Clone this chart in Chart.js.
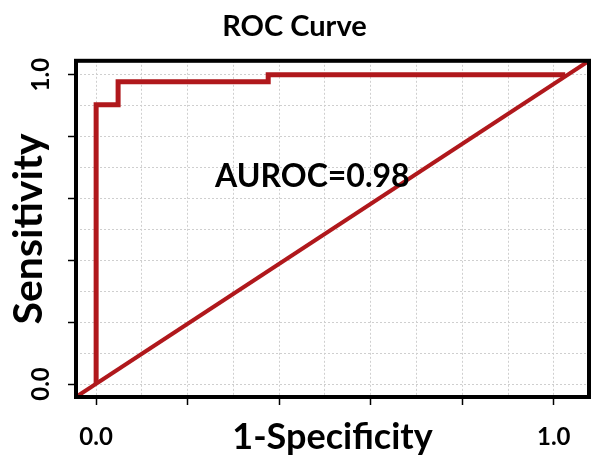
<!DOCTYPE html>
<html>
<head>
<meta charset="utf-8">
<title>ROC Curve</title>
<script src="https://cdn.jsdelivr.net/npm/chart.js@4.4.0/dist/chart.umd.min.js"></script>
<style>
    html, body { margin: 0; padding: 0; background: #ffffff; }
    canvas { display: block; }
</style>
</head>
<body>
<canvas id="rocChart" width="600" height="475"></canvas>
<script>
// ROC curve (1-specificity, sensitivity)
const rocFpr = [0.0, 0.0, 0.048, 0.048, 0.376, 0.376, 1.025];
const rocTpr = [0.0, 0.903, 0.903, 0.977, 0.977, 1.0, 1.0];

// Chance line, runs corner to corner of the plot box
const diagFpr = [-0.044, 1.077];
const diagTpr = [-0.042, 1.045];

// Ticks (grid every 0.1, labels only at the ends)
const xTickValues = [0.0, 0.1, 0.2, 0.3, 0.4, 0.5, 0.6, 0.7, 0.8, 0.9, 1.0];
const yTickValues = [0.0, 0.1, 0.2, 0.3, 0.4, 0.5, 0.6, 0.7, 0.8, 0.9, 1.0];
const labeledTicks = ['0.0', '1.0'];

const aucLabel = 'AUROC=0.98';

const RED = '#b0181c';
const FONT = 'Lato, "Open Sans", sans-serif';

function toPoints(xs, ys) {
    return xs.map((x, i) => ({ x: x, y: ys[i] }));
}

// рамка вокруг области графика
const boxPlugin = {
    id: 'plotBox',
    afterDatasetsDraw(chart) {
        const { ctx, chartArea: a } = chart;
        ctx.save();
        ctx.strokeStyle = '#000000';
        ctx.lineWidth = 4;
        ctx.strokeRect(a.left, a.top, a.right - a.left, a.bottom - a.top);
        ctx.restore();
    }
};

// подпись AUROC внутри графика
const aucPlugin = {
    id: 'aucText',
    afterDraw(chart) {
        const { ctx, scales } = chart;
        ctx.save();
        ctx.font = 'bold 32px ' + FONT;
        ctx.fillStyle = '#000000';
        ctx.textAlign = 'left';
        ctx.textBaseline = 'alphabetic';
        ctx.fillText(aucLabel, scales.x.getPixelForValue(0.26), scales.y.getPixelForValue(0.638));
        ctx.restore();
    }
};

function tickLabel(value) {
    const s = value.toFixed(1);
    return labeledTicks.includes(s) ? s : '';
}

function majorTick(ctx) {
    const v = ctx.tick ? Math.round(ctx.tick.value * 10) : 1;
    return v % 2 === 0 ? '#000000' : 'rgba(0,0,0,0)';
}

const gridOpts = {
    color: '#cfcfcf',
    lineWidth: 1,
    tickColor: majorTick,
    tickLength: 8,
    tickWidth: 1.5
};

new Chart(document.getElementById('rocChart').getContext('2d'), {
    type: 'scatter',
    data: {
        datasets: [
            {
                label: 'ROC',
                data: toPoints(rocFpr, rocTpr),
                showLine: true,
                borderColor: RED,
                backgroundColor: RED,
                borderWidth: 5,
                pointRadius: 0,
                tension: 0
            },
            {
                label: 'Chance',
                data: toPoints(diagFpr, diagTpr),
                showLine: true,
                borderColor: RED,
                backgroundColor: RED,
                borderWidth: 4,
                pointRadius: 0,
                tension: 0
            }
        ]
    },
    options: {
        responsive: false,
        animation: false,
        layout: { padding: { left: 0, right: 11, top: 0, bottom: 0 } },
        plugins: {
            legend: { display: false },
            tooltip: { enabled: false },
            title: {
                display: true,
                text: 'ROC Curve',
                color: '#000000',
                font: { family: FONT, size: 29, weight: 'bold' },
                padding: { top: 9, bottom: 17 }
            }
        },
        scales: {
            x: {
                type: 'linear',
                min: diagFpr[0],
                max: diagFpr[1],
                afterBuildTicks: scale => { scale.ticks = xTickValues.map(v => ({ value: v })); },
                grid: gridOpts,
                border: { display: false, dash: [2, 2] },
                ticks: {
                    callback: tickLabel,
                    color: '#000000',
                    padding: 18,
                    maxRotation: 0,
                    autoSkip: false,
                    font: { family: FONT, size: 24, weight: 'bold' }
                },
                title: {
                    display: true,
                    text: '1-Specificity',
                    color: '#000000',
                    font: { family: FONT, size: 36, weight: 'bold' },
                    padding: { top: -54, bottom: 16 }
                }
            },
            y: {
                type: 'linear',
                min: diagTpr[0],
                max: diagTpr[1],
                afterBuildTicks: scale => { scale.ticks = yTickValues.map(v => ({ value: v })); },
                grid: gridOpts,
                border: { display: false, dash: [2, 2] },
                ticks: {
                    callback: tickLabel,
                    color: '#000000',
                    padding: 10,
                    minRotation: 90,
                    maxRotation: 90,
                    crossAlign: 'center',
                    autoSkip: false,
                    font: { family: FONT, size: 24, weight: 'bold' }
                },
                title: {
                    display: true,
                    text: 'Sensitivity',
                    color: '#000000',
                    font: { family: FONT, size: 41, weight: 'bold' },
                    padding: { top: 4, bottom: -34 }
                }
            }
        }
    },
    plugins: [boxPlugin, aucPlugin]
});
</script>
</body>
</html>
